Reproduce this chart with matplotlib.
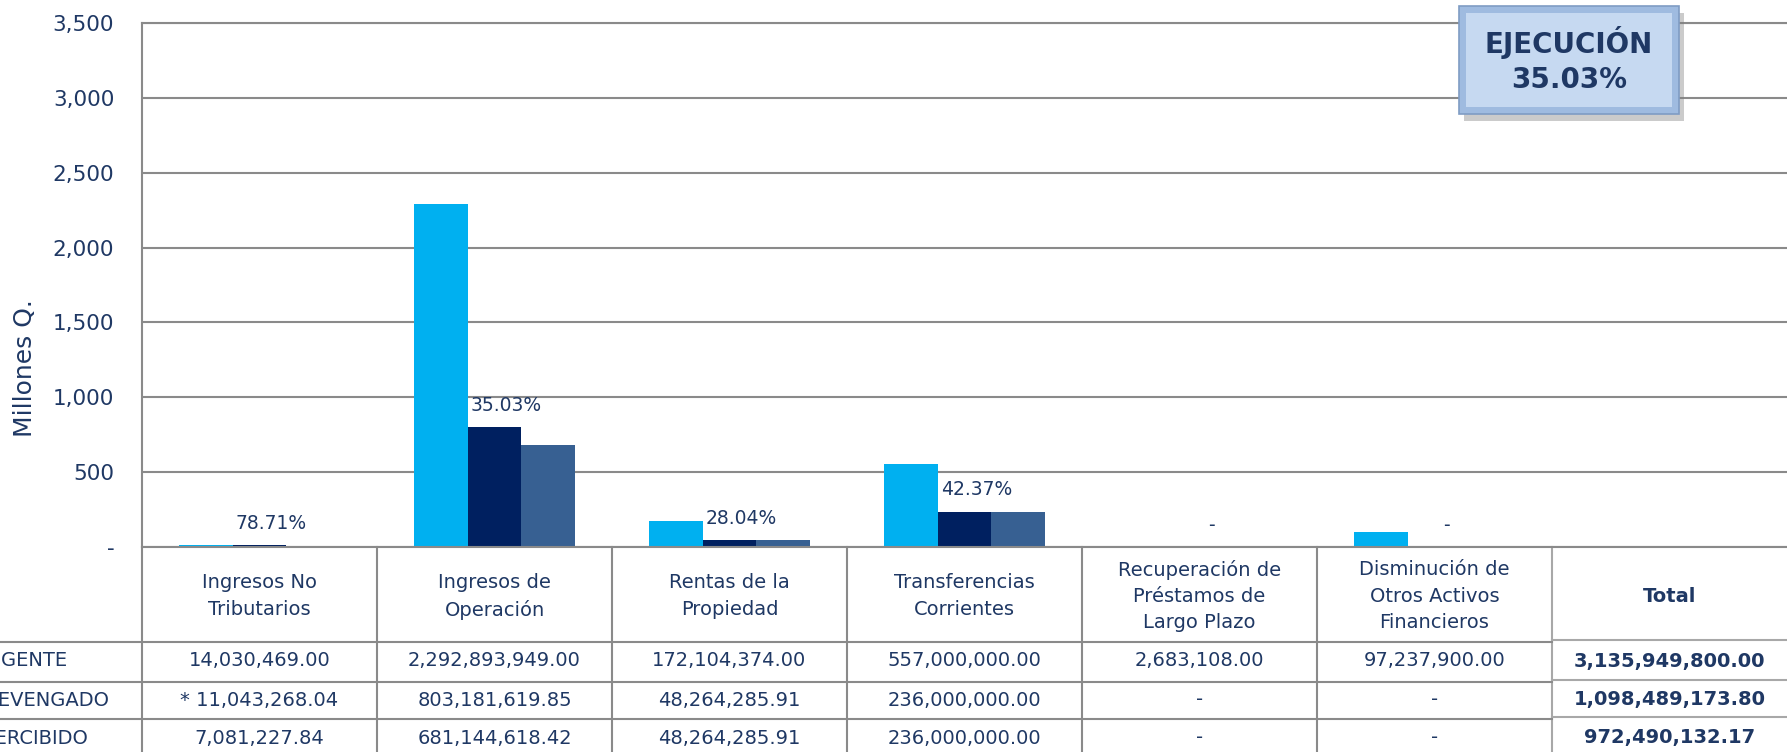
import numpy as np
import matplotlib.pyplot as plt
from matplotlib.patches import Rectangle
from matplotlib.lines import Line2D
from matplotlib.ticker import FuncFormatter
from matplotlib.transforms import blended_transform_factory

# Data (quetzales)
categories = ['Ingresos No\nTributarios', 'Ingresos de\nOperación', 'Rentas de la\nPropiedad',
              'Transferencias\nCorrientes', 'Recuperación de\nPréstamos de\nLargo Plazo',
              'Disminución de\nOtros Activos\nFinancieros']
vigente = [14030469.00, 2292893949.00, 172104374.00, 557000000.00, 2683108.00, 97237900.00]
devengado = [11043268.04, 803181619.85, 48264285.91, 236000000.00, 0.0, 0.0]
percibido = [7081227.84, 681144618.42, 48264285.91, 236000000.00, 0.0, 0.0]
totales = [3135949800.00, 1098489173.80, 972490132.17]
row_names = ['VIGENTE', 'DEVENGADO', 'PERCIBIDO']
devengado_prefix = ['* ', '', '', '', '', '']
yticks = [0, 500, 1000, 1500, 2000, 2500, 3000, 3500]
ejecucion = 'EJECUCIÓN\n35.03%'

W, H = 1787, 752
navy = '#1F3864'
grid_gray = '#8A8A8A'
light_gray = '#A8A8A8'
colors = ['#00B0F0', '#002060', '#376092']

plt.rcParams['font.family'] = ['DejaVu Sans']

fig = plt.figure(figsize=(W / 100, H / 100), dpi=100)
ax = fig.add_axes([142 / W, 205 / H, 1 - 142 / W, 524 / H])


def fy(px):
    return 1 - px / H


x = np.arange(len(categories))
bw = 0.227
series = [vigente, devengado, percibido]
for k, vals in enumerate(series):
    ax.bar(x + (k - 1) * bw, np.array(vals) / 1e6, width=bw, color=colors[k], zorder=2)

# percentage labels (devengado / vigente)
for i in x:
    if devengado[i] > 0:
        lab = f'{devengado[i] / vigente[i] * 100:.2f}%'
    else:
        lab = '-'
    ax.text(i + 0.05, devengado[i] / 1e6 + 145, lab, ha='center', va='center',
            fontsize=13.5, color=navy, zorder=4)

ax.set_xlim(-0.5, 6.5)
ax.set_ylim(0, 3500)
ax.set_yticks(yticks)
ax.yaxis.set_major_formatter(FuncFormatter(lambda v, p: '-' if v == 0 else f'{v:,.0f}'))
ax.tick_params(axis='y', length=0, pad=20, labelsize=15.5, labelcolor=navy)
ax.set_xticks([])
ax.grid(axis='y', color=grid_gray, linewidth=1.5, zorder=0)
for s in ['left', 'bottom', 'top']:
    ax.spines[s].set_color(grid_gray)
    ax.spines[s].set_linewidth(1.5)
    ax.spines[s].set_zorder(3)
ax.spines['right'].set_visible(False)

fig.text(25 / W, fy(368), 'Millones Q.', rotation=90, ha='center', va='center',
         fontsize=18, color=navy)

# table below the chart
trans = blended_transform_factory(ax.transData, fig.transFigure)
for xb in np.arange(-0.5, 5.0, 1.0):
    ax.add_artist(Line2D([xb, xb], [fy(547), fy(760)], transform=trans, color=grid_gray,
                         lw=1.5, clip_on=False))
ax.add_artist(Line2D([5.5, 5.5], [fy(547), fy(760)], transform=trans, color=light_gray,
                     lw=1.5, clip_on=False))
for yb in [642, 682, 719]:
    ax.add_artist(Line2D([-5, 5.5], [fy(yb), fy(yb)], transform=trans,
                         color=grid_gray, lw=1.5, clip_on=False))
    ax.add_artist(Line2D([5.5, 6.6], [fy(yb - 2), fy(yb - 2)], transform=trans,
                         color=light_gray, lw=1.5, clip_on=False))

tsize = 14
for i, cat in enumerate(categories):
    ax.text(i, fy(596), cat, transform=trans, ha='center', va='center', fontsize=tsize,
            color=navy, linespacing=1.5, clip_on=False)
ax.text(6, fy(596), 'Total', transform=trans, ha='center', va='center', fontsize=tsize,
        color=navy, fontweight='bold', clip_on=False)

row_y = [661, 700, 738]
for r, vals in enumerate(series):
    for i, v in enumerate(vals):
        txt = f'{v:,.2f}' if v > 0 else '-'
        if r == 1:
            txt = devengado_prefix[i] + txt
        ax.text(i, fy(row_y[r]), txt, transform=trans, ha='center', va='center',
                fontsize=tsize, color=navy, clip_on=False)
    ax.text(6, fy(row_y[r]), f'{totales[r]:,.2f}', transform=trans, ha='center', va='center',
            fontsize=tsize, color=navy, fontweight='bold', clip_on=False)
    fig.text(-17 / W, fy(row_y[r]), row_names[r], ha='left', va='center',
             fontsize=tsize, color=navy)

# EJECUCION box
bx, by, bwid, bh = 1459 / W, fy(114), 220 / W, 108 / H
fig.add_artist(Rectangle((bx + 5 / W, by - 7 / H), bwid, bh, transform=fig.transFigure,
                         facecolor='#7F7F7F', alpha=0.4, edgecolor='none'))
fig.add_artist(Rectangle((bx, by), bwid, bh, transform=fig.transFigure,
                         facecolor='#9FBBE0', edgecolor='#7F9CC4', lw=1.2))
fig.add_artist(Rectangle((bx + 7 / W, by + 7 / H), bwid - 14 / W, bh - 14 / H,
                         transform=fig.transFigure, facecolor='#C6D9F1', edgecolor='none'))
fig.text(bx + bwid / 2, by + bh / 2, ejecucion, ha='center', va='center', fontsize=20,
         fontweight='bold', color=navy, linespacing=1.35)

fig.savefig('out.png', dpi=100)
